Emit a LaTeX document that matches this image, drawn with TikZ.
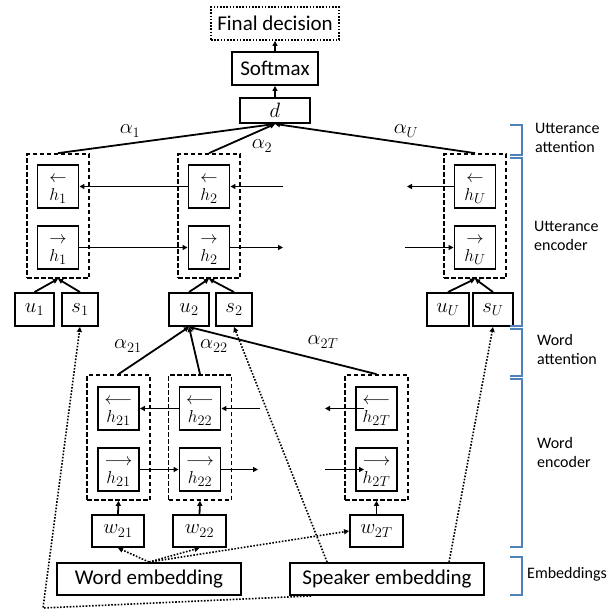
\documentclass[tikz,border=0pt]{standalone}
\usepackage{fontspec}
\setmainfont{Carlito}
\usetikzlibrary{arrows.meta,calc}
\definecolor{brk}{HTML}{4F81BD}
\newcommand\hlab[2]{$\begin{array}{@{}c@{}}#1\\[-5pt]#2\end{array}$}
\begin{document}
\begin{tikzpicture}[x=1pt,y=-1pt,
  box/.style={draw, line width=1.9pt, inner sep=0pt, font=\fontsize{21}{24}\selectfont},
  mbox/.style={draw, line width=1.9pt, inner sep=0pt, font=\fontsize{22}{26}\selectfont},
  hbox/.style={draw, line width=1.9pt, inner sep=0pt, minimum width=41pt, minimum height=43pt, font=\fontsize{19}{23}\selectfont},
  dbox/.style={draw, line width=1.7pt, dash pattern=on 4.5pt off 2.5pt, inner sep=0pt},
  arr/.style={-{Triangle[length=5pt,width=5pt]}, line width=1.8pt},
  dotarr/.style={-{Triangle[length=5pt,width=5pt]}, line width=1.6pt, dash pattern=on 1.6pt off 1.6pt},
  mlab/.style={inner sep=0pt, font=\fontsize{22}{26}\selectfont},
  lab/.style={inner sep=0pt, anchor=west, align=left, font=\fontsize{16}{19}\selectfont},
  brack/.style={draw=brk, line width=1.9pt}
]
\useasboundingbox (0,0) rectangle (610,610);

% top stack
\node[box, dash pattern=on 1.6pt off 1.6pt, minimum width=128pt, minimum height=33pt] (fd) at (275,23.5) {Final decision};
\node[box, minimum width=86pt, minimum height=33pt] (sm) at (275,68.5) {Softmax};
\node[mbox, minimum width=70pt, minimum height=25pt] (d) at (275,110.5) {$d$};
\draw[arr] (d.north) -- (sm.south);
\draw[arr] (sm.north) -- (fd.south);

% utterance encoder
\node[dbox, minimum width=62pt, minimum height=124pt] (ub1) at (58,216) {};
\node[dbox, minimum width=62pt, minimum height=124pt] (ub2) at (209,216) {};
\node[dbox, minimum width=62pt, minimum height=124pt] (ubU) at (475,216) {};
\node[hbox] (h1b) at (58,186.5) {\hlab{\leftarrow}{h_1}};
\node[hbox] (h1f) at (58,247.5) {\hlab{\rightarrow}{h_1}};
\node[hbox] (h2b) at (209,186.5) {\hlab{\leftarrow}{h_2}};
\node[hbox] (h2f) at (209,247.5) {\hlab{\rightarrow}{h_2}};
\node[hbox] (hUb) at (475,186.5) {\hlab{\leftarrow}{h_U}};
\node[hbox] (hUf) at (475,247.5) {\hlab{\rightarrow}{h_U}};
\coordinate (ubr) at (283,186.5);
\coordinate (ubl) at (407,186.5);
\coordinate (ufr) at (283,247.5);
\coordinate (ufl) at (405,247.5);
\draw[arr] (h2b.west) -- (h1b.east);
\draw[arr] (ubr) -- (h2b.east);
\draw[arr] (hUb.west) -- (ubl);
\draw[arr] (h1f.east) -- (h2f.west);
\draw[arr] (h2f.east) -- (ufr);
\draw[arr] (ufl) -- (hUf.west);

% utterance attention
\draw[arr] (ub1.north) -- (d.south);
\draw[arr] (ub2.north) -- (d.south);
\draw[arr] (ubU.north) -- (d.south);
\node[mlab] (a1) at (130,131) {$\alpha_1$};
\node[mlab] (a2) at (262,146) {$\alpha_2$};
\node[mlab] (aU) at (406,131) {$\alpha_U$};

% u/s boxes
\node[mbox, minimum width=39pt, minimum height=33pt] (u1) at (34.5,309.5) {$u_1$};
\node[mbox, minimum width=36pt, minimum height=33pt] (s1) at (80,309.5) {$s_1$};
\node[mbox, minimum width=40pt, minimum height=33pt] (u2) at (189,309.5) {$u_2$};
\node[mbox, minimum width=36pt, minimum height=33pt] (s2) at (234,309.5) {$s_2$};
\node[mbox, minimum width=42pt, minimum height=33pt] (uU) at (448,309.5) {$u_U$};
\node[mbox, minimum width=40pt, minimum height=33pt] (sU) at (493,309.5) {$s_U$};
\draw[arr] (u1.north) -- (ub1.south);
\draw[arr] (s1.north) -- (ub1.south);
\draw[arr] (u2.north) -- (ub2.south);
\draw[arr] (s2.north) -- (ub2.south);
\draw[arr] (uU.north) -- (ubU.south);
\draw[arr] (sU.north) -- (ubU.south);

% word encoder
\node[dbox, minimum width=63pt, minimum height=125pt] (wb1) at (118.5,437.5) {};
\node[dbox, minimum width=63pt, minimum height=125pt] (wb2) at (200,437.5) {};
\node[dbox, minimum width=63pt, minimum height=125pt] (wbT) at (376.5,437.5) {};
\node[hbox] (h21b) at (118.5,408.5) {\hlab{\longleftarrow}{h_{21}}};
\node[hbox] (h21f) at (118.5,469.5) {\hlab{\longrightarrow}{h_{21}}};
\node[hbox] (h22b) at (200,408.5) {\hlab{\longleftarrow}{h_{22}}};
\node[hbox] (h22f) at (200,469.5) {\hlab{\longrightarrow}{h_{22}}};
\node[hbox] (h2Tb) at (376.5,408.5) {\hlab{\longleftarrow}{h_{2T}}};
\node[hbox] (h2Tf) at (376.5,469.5) {\hlab{\longrightarrow}{h_{2T}}};
\coordinate (wbr) at (260,408.5);
\coordinate (wbl) at (325,408.5);
\coordinate (wfr) at (258,469.5);
\coordinate (wfl) at (325,469.5);
\draw[arr] (h22b.west) -- (h21b.east);
\draw[arr] (wbr) -- (h22b.east);
\draw[arr] ([xshift=9pt]h2Tb.west) -- (wbl);
\draw[arr] (h21f.east) -- (h22f.west);
\draw[arr] (h22f.east) -- (wfr);
\draw[arr] (wfl) -- ([xshift=9pt]h2Tf.west);

% word attention
\draw[arr] (wb1.north) -- (u2.south);
\draw[arr] (wb2.north) -- (u2.south);
\draw[arr] (wbT.north) -- (u2.south);
\node[mlab] (a21) at (128,346) {$\alpha_{21}$};
\node[mlab] (a22) at (214,346) {$\alpha_{22}$};
\node[mlab] (a2T) at (323,342) {$\alpha_{2T}$};

% word inputs
\node[mbox, minimum width=52pt, minimum height=32pt] (w21) at (118,531) {$w_{21}$};
\node[mbox, minimum width=53pt, minimum height=32pt] (w22) at (199.5,531) {$w_{22}$};
\node[mbox, minimum width=53pt, minimum height=32pt] (w2T) at (376.5,531) {$w_{2T}$};
\draw[arr] (w21.north) -- (wb1.south);
\draw[arr] (w22.north) -- (wb2.south);
\draw[arr] (w2T.north) -- (wbT.south);

% embeddings
\node[box, minimum width=184pt, minimum height=32pt] (we) at (149,579) {Word embedding};
\node[box, minimum width=194pt, minimum height=32pt] (se) at (387,579) {Speaker embedding};
\draw[dotarr] (we.north) -- (w21.south);
\draw[dotarr] (we.north) -- (w22.south);
\draw[dotarr] (we.north) -- (w2T.west);
\draw[dotarr] ([xshift=38pt]se.north west) -- (s2.south);
\draw[dotarr] ([xshift=160pt]se.north west) -- (sU.south);
\coordinate (cl) at (43,608);
\draw[dotarr] ([xshift=22pt]se.south west) -- (cl) -- (s1.south);

% brackets
\draw[brack] (510,125) -- (522,125) -- (522,155) -- (510,155);
\draw[brack] (510,158) -- (522,158) -- (522,326) -- (510,326);
\draw[brack] (510,329) -- (522,329) -- (522,376) -- (510,376);
\draw[brack] (510,379) -- (522,379) -- (522,547) -- (510,547);
\draw[brack] (510,557) -- (522,557) -- (522,595) -- (510,595);
\node[lab] (l1) at (535,138) {Utterance\\attention};
\node[lab] (l2) at (534,236) {Utterance\\encoder};
\node[lab] (l3) at (537,349) {Word\\attention};
\node[lab] (l4) at (537,452) {Word\\encoder};
\node[lab] (l5) at (527,574) {Embeddings};
\end{tikzpicture}
\end{document}
